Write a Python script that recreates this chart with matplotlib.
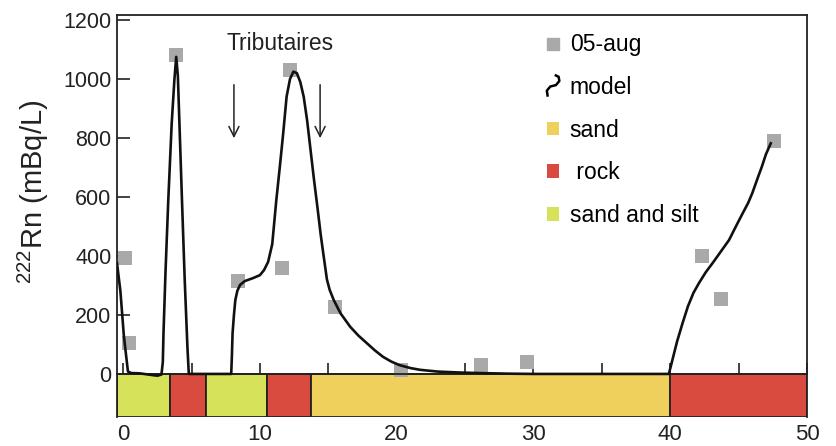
import matplotlib
matplotlib.use("Agg")
import matplotlib.pyplot as plt
from matplotlib.lines import Line2D
from matplotlib.patches import Rectangle, Patch
from matplotlib.legend_handler import HandlerBase

plt.rcParams["font.family"] = ["Liberation Sans", "DejaVu Sans"]
plt.rcParams["mathtext.fontset"] = "custom"
plt.rcParams["mathtext.rm"] = "Liberation Sans"

# 05-aug measurements (distance, 222Rn mBq/L)
obs_x = [0.1, 0.4, 3.9, 8.4, 11.6, 12.2, 15.5, 20.3, 26.2, 29.5, 42.3, 43.7, 47.6]
obs_y = [393, 105, 1080, 315, 359, 1030, 227, 14, 30, 40, 400, 254, 790]

# model curve
model_x = [-0.45, -0.2, 0.05, 0.35, 0.6, 1.2, 2.0, 2.5, 2.8, 2.9, 2.95, 3.1, 3.3, 3.55, 3.75,
           3.88, 4.0, 4.15, 4.3, 4.5, 4.7, 4.8, 5.5, 7.0, 7.9, 7.95, 8.0, 8.1, 8.2, 8.35,
           8.55, 8.9, 9.5, 10.0, 10.3, 10.6, 10.9, 11.2, 11.45, 11.7, 11.95, 12.2, 12.45,
           12.7, 12.95, 13.2, 13.45, 13.7, 13.95, 14.2, 14.45, 14.7, 14.9, 15.1, 15.4,
           15.9, 16.6, 17.2, 17.8, 18.4, 19.0, 19.6, 20.2, 21.0, 21.7, 23.0, 24.5, 26.0,
           28.0, 30.0, 34.0, 38.0, 39.9, 40.2, 40.5, 40.9, 41.3, 41.7, 42.1, 42.6, 43.1,
           43.7, 44.3, 44.8, 45.3, 45.7, 46.0, 46.4, 46.7, 47.0, 47.35]
model_y = [376, 280, 130, 8, 3, 2, -3, -6, -2, 40, 139, 350, 590, 850, 1000,
           1075, 1010, 800, 590, 320, 90, 0, 0, 0, 0, 60, 138, 200, 250, 282,
           302, 315, 325, 335, 352, 380, 440, 590, 700, 815, 940, 1000, 1025,
           1020, 990, 940, 860, 760, 660, 567, 470, 386, 320, 285, 250,
           205, 160, 130, 105, 80, 58, 42, 30, 20, 14, 8, 5, 3,
           1, 0, 0, 0, 0, 55, 110, 172, 230, 275, 308, 345, 376,
           415, 454, 500, 545, 580, 613, 665, 703, 745, 782]

# substrate strip along the river
strip_edges = [-0.45, 3.4, 6.05, 10.5, 13.7, 40, 50]
strip_types = ["sand and silt", "rock", "sand and silt", "rock", "sand", "rock"]
colors = {"sand": "#efd05c", "rock": "#d94a3f", "sand and silt": "#d6e25a"}
strip_bottom = -146

arrow_x = [8.1, 14.4]


class SquiggleHandler(HandlerBase):
    # small hand-drawn looking curve for the "model" entry
    def create_artists(self, legend, orig_handle, xdescent, ydescent, width, height,
                       fontsize, trans):
        cx = width * 0.5 - xdescent
        xs = [cx - 4, cx - 4.5, cx - 2, cx + 2, cx + 4.5, cx + 4, cx + 2]
        ys = [-0.2 * height, 0.15 * height, 0.45 * height, 0.55 * height,
              0.85 * height, 1.15 * height, 1.25 * height]
        ys = [y - ydescent for y in ys]
        ln = Line2D(xs, ys, color="black", lw=1.8, transform=trans)
        return [ln]


fig = plt.figure(figsize=(8.37, 4.46), dpi=100)
ax = fig.add_axes([117 / 837, 1 - 417 / 446, 690 / 837, 402 / 446])

for i, t in enumerate(strip_types):
    ax.add_patch(Rectangle((strip_edges[i], strip_bottom), strip_edges[i + 1] - strip_edges[i],
                           -strip_bottom, facecolor=colors[t], edgecolor="#222222",
                           lw=1.3, zorder=1))

ax.scatter(obs_x, obs_y, marker="s", s=90, color="#a9a9a9", zorder=2, linewidths=0)
ax.plot(model_x, model_y, color="#111111", lw=1.9, zorder=3)

for xa in arrow_x:
    ax.annotate("", xy=(xa, 790), xytext=(xa, 990),
                arrowprops=dict(arrowstyle="->", color="#222222", lw=1.1,
                                mutation_scale=18))
ax.text(11.5, 1122, "Tributaires", ha="center", va="center", fontsize=16.5, color="#222222")

ax.set_xlim(-0.45, 50)
ax.set_ylim(strip_bottom, 1217)
ax.spines["bottom"].set_position(("data", 0))
for s in ax.spines.values():
    s.set_linewidth(1.3)
    s.set_color("#222222")

ax.set_xticks([0, 10, 20, 30, 40, 50])
ax.set_xticks([5, 15, 25, 35, 45], minor=True)
ax.set_yticks(range(0, 1201, 200))
ax.tick_params(axis="x", which="both", direction="in", length=8, width=1.2, pad=36,
               labelsize=16, colors="#222222")
ax.tick_params(axis="y", direction="in", length=9, width=1.2, pad=4,
               labelsize=15.5, colors="#222222")

ax.set_ylabel(r"$\mathregular{^{222}}$Rn (mBq/L)", fontsize=21, color="#222222")
ax.yaxis.set_label_coords(-0.095, 0.56)

handles = [
    Line2D([], [], marker="s", color="#a9a9a9", ls="none", markersize=9),
    Line2D([], [], color="black"),
    Patch(facecolor=colors["sand"]),
    Patch(facecolor=colors["rock"]),
    Patch(facecolor=colors["sand and silt"]),
]
labels = ["05-aug", "model", "sand", " rock", "sand and silt"]
ax.legend(handles, labels, loc="upper left", bbox_to_anchor=(0.593, 1.006), frameon=False,
          fontsize=16.5, labelspacing=0.86, handlelength=0.55, handleheight=0.55,
          handletextpad=0.45, handler_map={handles[1]: SquiggleHandler()})

fig.savefig("out.png", dpi=100)
